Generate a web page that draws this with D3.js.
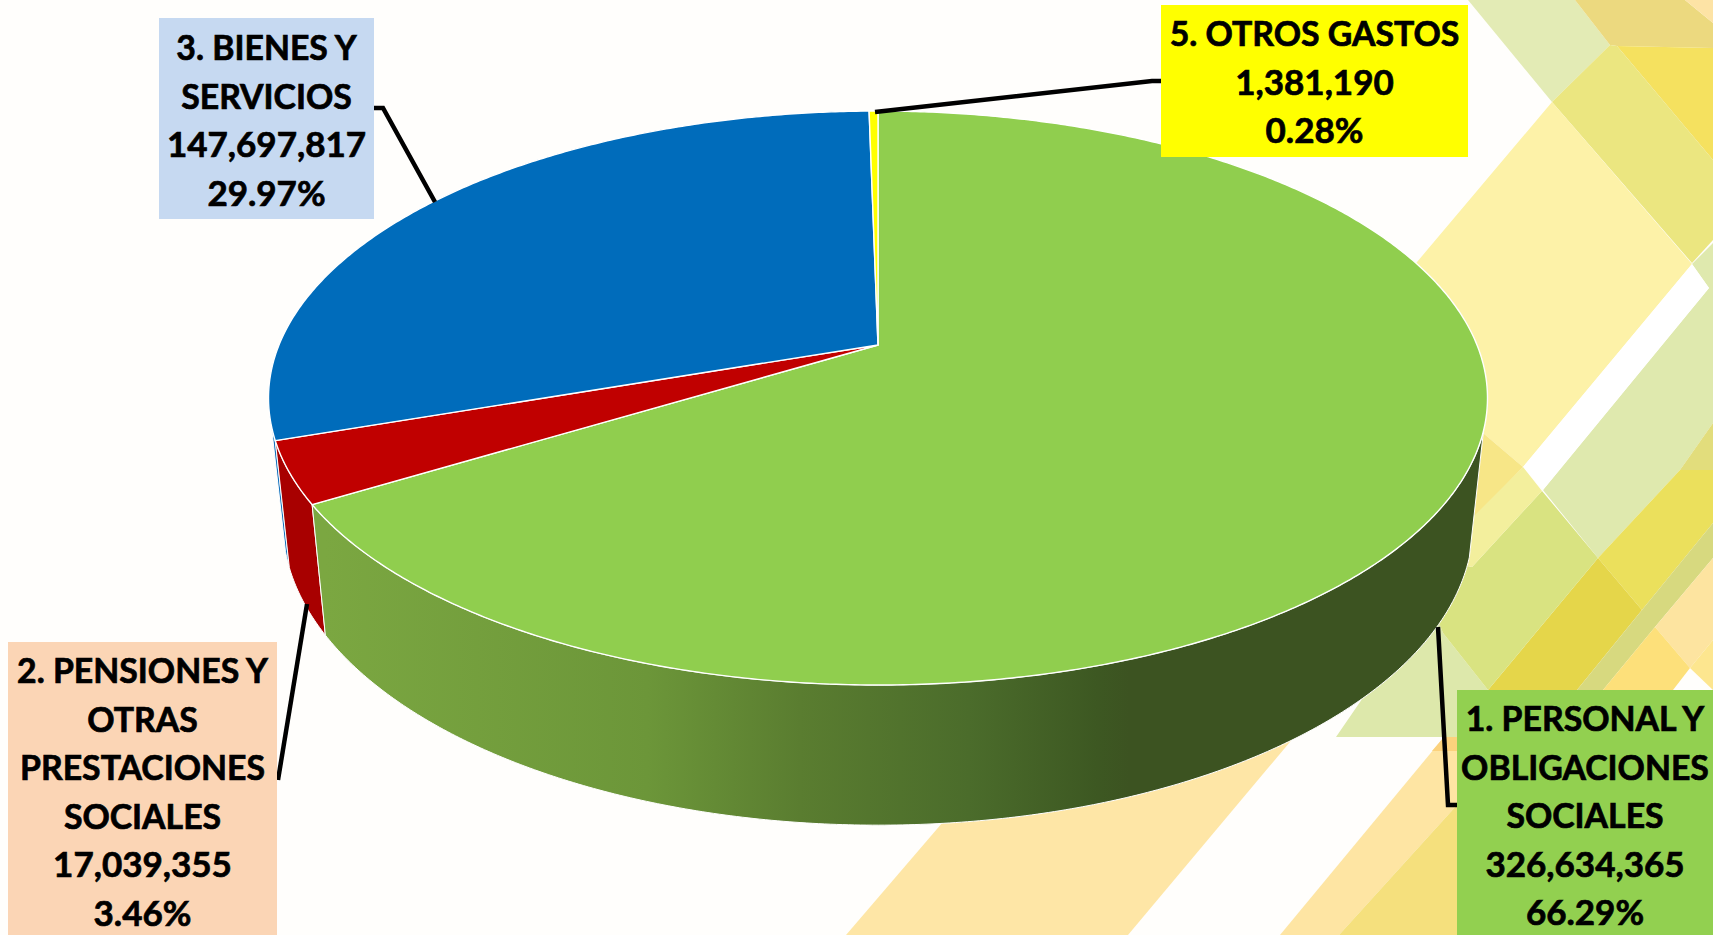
<!DOCTYPE html>
<html>
<head>
<meta charset="utf-8">
<title>Gastos</title>
<script src="https://cdnjs.cloudflare.com/ajax/libs/d3/7.8.5/d3.min.js"></script>
<style>
  html, body { margin: 0; padding: 0; background: #fffefc; overflow: hidden; }
  svg { display: block; }
  .lbl { font-family: Lato, "Open Sans", sans-serif; font-weight: 700; font-size: 33.8px; fill: #000; stroke: #000; stroke-width: 0.7px; text-anchor: middle; }
  .num { font-size: 35px; }
</style>
</head>
<body>
<svg id="viz" width="1713" height="935"></svg>
<script>
// chart data
var categories = ["1. PERSONAL Y OBLIGACIONES SOCIALES", "2. PENSIONES Y OTRAS PRESTACIONES SOCIALES", "3. BIENES Y SERVICIOS", "5. OTROS GASTOS"];
var amounts = [326634365, 17039355, 147697817, 1381190];
var amountLabels = ["326,634,365", "17,039,355", "147,697,817", "1,381,190"];
var percentLabels = ["66.29%", "3.46%", "29.97%", "0.28%"];
var topColors = ["#90ce4e", "#c00000", "#006cbb", "#ffff00"];
var wallColors = ["url(#wallGreen)", "#a80000", "#1673bd", "#cccc00"];

// label boxes, one per slice
var boxFills = ["#92d050", "#fbd5b5", "#c6d9f1", "#ffff00"];
var boxRects = [[1457, 690, 256, 245], [8, 642, 269, 293], [159, 18, 215, 201], [1161, 5, 307, 152]];
var boxLines = [
    ["1. PERSONAL Y", "OBLIGACIONES", "SOCIALES"],
    ["2. PENSIONES Y", "OTRAS", "PRESTACIONES", "SOCIALES"],
    ["3. BIENES Y", "SERVICIOS"],
    ["5. OTROS GASTOS"]
];
var firstLineY = [731, 683, 60, 46];
var leaders = [
    [[1438, 627], [1448, 805], [1457, 805]],
    [[307, 604], [278, 780]],
    [[435, 202], [383, 108], [374, 108]],
    [[875, 112], [1152, 81], [1161, 81]]
];

// backdrop pattern of the slide
var backdrop = [
    ["#e3ebb5", [[1468,0],[1575,0],[1610,45],[1552,102]]],
    ["#ecd97f", [[1575,0],[1685,0],[1713,23],[1713,48],[1617,46],[1610,45]]],
    ["#fde3a5", [[1685,0],[1713,0],[1713,23]]],
    ["#f5e15f", [[1617,46],[1713,48],[1713,160]]],
    ["#ebe680", [[1610,45],[1617,46],[1713,160],[1713,240],[1692,263],[1552,102]]],
    ["#fdf2a8", [[1552,102],[1692,264],[1523,467],[1483,433],[1300,400],[1417,262]]],
    ["#dfe9ae", [[1713,243],[1713,423],[1680,470],[1598,558],[1543,490],[1709,288],[1692,264]]],
    ["#ffffff", [[1692,264],[1709,288],[1543,490],[1523,467]]],
    ["#e2dd7c", [[1680,470],[1713,423],[1713,470]]],
    ["#ebe05c", [[1680,470],[1713,470],[1713,523],[1642,610],[1598,558]]],
    ["#e5d64a", [[1598,558],[1642,610],[1577,690],[1488,690]]],
    ["#d7d97f", [[1713,523],[1713,558],[1655,627],[1603,690],[1577,690],[1642,610]]],
    ["#dde8ab", [[1336,737],[1430,600],[1443,633],[1488,690],[1500,737]]],
    ["#d9e381", [[1542,491],[1598,558],[1488,690],[1443,633],[1430,600],[1440,560],[1472,567]]],
    ["#f3ef9d", [[1523,467],[1542,491],[1472,567],[1440,560],[1440,520],[1475,513]]],
    ["#f7e687", [[1483,433],[1523,467],[1475,515],[1440,520],[1440,433]]],
    ["#fde4a0", [[1713,558],[1655,627],[1690,668],[1713,640]]],
    ["#fde07a", [[1655,627],[1603,690],[1673,690],[1690,668]]],
    ["#fde68f", [[1713,640],[1690,668],[1713,690]]],
    ["#fee6a6", [[846,935],[979,780],[1300,730],[1128,935]]],
    ["#fee5a3", [[1280,935],[1444,737],[1457,737],[1457,805],[1339,935]]],
    ["#fcd27c", [[1444,737],[1457,737],[1457,751],[1432,751]]],
    ["#f5e07d", [[1339,935],[1457,805],[1457,935]]]
];

// pie geometry: tilted disc, perspective divides by depth
var cx = 878;
var topDisc = { y0: 345, rx: 599, ry: 277.2, k: 0.1847 };
var baseDisc = { y0: 467, rx: 585, ry: 292, k: 0.1847 };
var wallFrom = 107 * Math.PI / 180;
var wallTo = 254 * Math.PI / 180;

function project(disc, a) {
    var u = Math.sin(a), v = Math.cos(a);
    var d = 1 + disc.k * v;
    return [cx + disc.rx * u / d, disc.y0 - disc.ry * v / d];
}

function arcPoints(disc, a0, a1) {
    var n = Math.max(2, Math.ceil(Math.abs(a1 - a0) * 120));
    return d3.range(n + 1).map(function(i) {
        return project(disc, a0 + (a1 - a0) * i / n);
    });
}

var line = d3.line();
var svg = d3.select('svg#viz');

var defs = svg.append('defs');
var grad = defs.append('linearGradient')
    .attr('id', 'wallGreen')
    .attr('gradientUnits', 'userSpaceOnUse')
    .attr('x1', 326).attr('x2', 1130).attr('y1', 0).attr('y2', 0);
[[0, "#7ba741"], [0.4, "#6c9639"], [0.59, "#5a7d30"], [0.8, "#4b6c2b"], [0.958, "#3d5822"], [1, "#3c5321"]].forEach(function(s) {
    grad.append('stop').attr('offset', s[0]).attr('stop-color', s[1]);
});

svg.append('rect').attr('width', 1713).attr('height', 935).attr('fill', '#fffefc');

svg.selectAll('polygon.bg').data(backdrop).enter().append('polygon')
    .attr('class', 'bg')
    .attr('points', function(d) { return d[1].join(' '); })
    .attr('fill', function(d) { return d[0]; });

var slices = d3.pie().sort(null).value(function(d) { return d; })(amounts);

// side walls, back to front so green ends up on top
var walls = slices.slice().reverse().filter(function(d) {
    return d.endAngle > wallFrom && d.startAngle < wallTo;
});
svg.selectAll('path.wall').data(walls).enter().append('path')
    .attr('class', 'wall')
    .attr('d', function(d) {
        var a0 = Math.max(d.startAngle, wallFrom);
        var a1 = Math.min(d.endAngle, wallTo);
        return line(arcPoints(topDisc, a0, a1).concat(arcPoints(baseDisc, a1, a0))) + 'Z';
    })
    .attr('fill', function(d) { return wallColors[d.index]; })
    .attr('stroke', '#ffffff')
    .attr('stroke-width', 1)
    .attr('stroke-linejoin', 'round');

// top of the pie
svg.selectAll('path.top').data(slices).enter().append('path')
    .attr('class', 'top')
    .attr('d', function(d) {
        return line([[cx, topDisc.y0]].concat(arcPoints(topDisc, d.startAngle, d.endAngle))) + 'Z';
    })
    .attr('fill', function(d) { return topColors[d.index]; })
    .attr('stroke', '#ffffff')
    .attr('stroke-width', 1.4)
    .attr('stroke-linejoin', 'round');

// leader lines
svg.selectAll('path.leader').data(leaders).enter().append('path')
    .attr('class', 'leader')
    .attr('d', function(d) { return line(d); })
    .attr('fill', 'none')
    .attr('stroke', '#000')
    .attr('stroke-width', 4.5);

// label boxes
svg.selectAll('rect.box').data(boxRects).enter().append('rect')
    .attr('class', 'box')
    .attr('x', function(d) { return d[0]; })
    .attr('y', function(d) { return d[1]; })
    .attr('width', function(d) { return d[2]; })
    .attr('height', function(d) { return d[3]; })
    .attr('fill', function(d, i) { return boxFills[i]; });

categories.forEach(function(name, i) {
    var rows = boxLines[i].concat([amountLabels[i], percentLabels[i]]);
    svg.selectAll('text.lbl' + i).data(rows).enter().append('text')
        .attr('class', function(d, j) { return 'lbl lbl' + i + (j >= boxLines[i].length ? ' num' : ''); })
        .attr('x', boxRects[i][0] + boxRects[i][2] / 2)
        .attr('y', function(d, j) { return firstLineY[i] + j * 48.5; })
        .text(function(d) { return d; });
});
</script>
</body>
</html>
